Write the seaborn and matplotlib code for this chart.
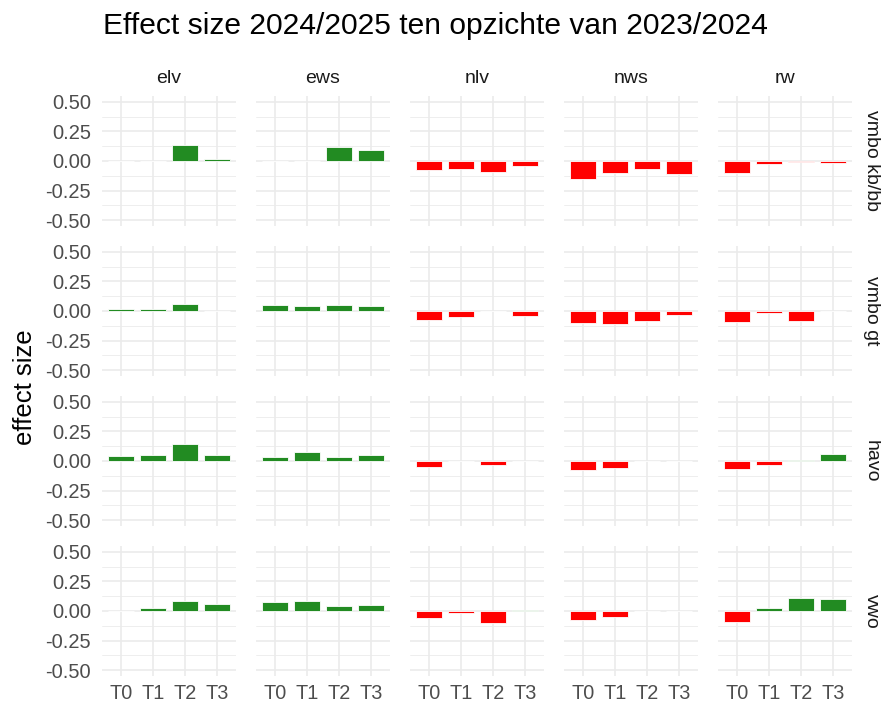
import matplotlib
matplotlib.use("Agg")
import matplotlib.pyplot as plt
import seaborn as sns
import pandas as pd
import numpy as np

sns.set_theme(style="white")
plt.rcParams['font.family'] = ['Liberation Sans', 'DejaVu Sans']

title = "Effect size 2024/2025 ten opzichte van 2023/2024"
ylabel = "effect size"
levels = ["vmbo kb/bb", "vmbo gt", "havo", "vwo"]
subjects = ["elv", "ews", "nlv", "nws", "rw"]
times = ["T0", "T1", "T2", "T3"]
yticks = [-0.50, -0.25, 0.00, 0.25, 0.50]
yticklabels = ["-0.50", "-0.25", "0.00", "0.25", "0.50"]

# values per subject (elv, ews, nlv, nws, rw), each T0..T3
vmbo_kbbb = [[0.0, 0.0, 0.136, 0.02],
             [0.0, 0.0, 0.117, 0.094],
             [-0.074, -0.068, -0.094, -0.04],
             [-0.15, -0.10, -0.068, -0.108],
             [-0.10, -0.023, -0.01, -0.02]]
vmbo_gt = [[0.015, 0.02, 0.063, 0.0],
           [0.05, 0.04, 0.048, 0.043],
           [-0.08, -0.048, 0.0, -0.04],
           [-0.105, -0.114, -0.082, -0.034],
           [-0.09, -0.02, -0.082, 0.0]]
havo = [[0.045, 0.05, 0.145, 0.054],
        [0.037, 0.077, 0.034, 0.05],
        [-0.054, 0.0, -0.034, 0.0],
        [-0.074, -0.06, 0.0, 0.0],
        [-0.065, -0.03, 0.01, 0.063]]
vwo = [[0.0, 0.026, 0.085, 0.06],
       [0.077, 0.085, 0.045, 0.05],
       [-0.06, -0.02, -0.10, 0.01],
       [-0.077, -0.05, 0.0, 0.0],
       [-0.097, 0.025, 0.114, 0.10]]

level_values = {"vmbo kb/bb": vmbo_kbbb, "vmbo gt": vmbo_gt, "havo": havo, "vwo": vwo}

records = []
for lev in levels:
    for si, sub in enumerate(subjects):
        for ti, t in enumerate(times):
            v = level_values[lev][si][ti]
            records.append({"level": lev, "subject": sub, "time": t, "es": v,
                            "sign": "pos" if v >= 0 else "neg"})
df = pd.DataFrame(records)

W, H = 881, 708
fig = plt.figure(figsize=(W / 100, H / 100), dpi=100)
palette = {"pos": "#228B22", "neg": "#FF0000"}

pan_left = [102, 256, 410, 564, 718]
pan_w = 134
pan_top = [96, 246, 396, 546]
pan_h = 130
grid_c = "#EBEBEB"
tick_c = "#4D4D4D"
strip_c = "#1A1A1A"

for r, lev in enumerate(levels):
    for c, sub in enumerate(subjects):
        ax = fig.add_axes([pan_left[c] / W, 1 - (pan_top[r] + pan_h) / H, pan_w / W, pan_h / H])
        sub_df = df[(df.level == lev) & (df.subject == sub)]
        ax.set_axisbelow(True)
        for yv in [-0.375, -0.125, 0.125, 0.375]:
            ax.axhline(yv, color=grid_c, lw=0.6, zorder=0)
        for yv in yticks:
            ax.axhline(yv, color=grid_c, lw=1.2, zorder=0)
        for xv in range(len(times)):
            ax.axvline(xv, color=grid_c, lw=1.2, zorder=0)
        sns.barplot(data=sub_df, x="time", y="es", hue="sign", palette=palette,
                    order=times, hue_order=["pos", "neg"], dodge=False, width=0.8,
                    saturation=1, legend=False, edgecolor="white", linewidth=0.6,
                    ax=ax, zorder=2)
        ax.set_xlim(-0.6, 3.6)
        ax.set_ylim(-0.55, 0.55)
        ax.set_xlabel("")
        ax.set_ylabel("")
        for s in ax.spines.values():
            s.set_visible(False)
        ax.set_yticks(yticks)
        ax.set_xticks(range(len(times)))
        ax.tick_params(axis="y", length=0, pad=8)
        ax.tick_params(axis="x", length=0, pad=6)
        if c == 0:
            ax.set_yticklabels(yticklabels, fontsize=14.5, color=tick_c)
        else:
            ax.set_yticklabels([])
        if r == len(levels) - 1:
            ax.set_xticklabels(times, fontsize=14.3, color=tick_c)
        else:
            ax.set_xticklabels([])
        if r == 0:
            ax.text(0.5, 1 + 13 / pan_h, sub, transform=ax.transAxes, ha="center",
                    va="baseline", fontsize=14, color=strip_c)
        if c == len(subjects) - 1:
            ax.text(1 + 19 / pan_w, 0.5, lev, transform=ax.transAxes, ha="center",
                    va="center", rotation=-90, fontsize=14, color=strip_c)

fig.text(103 / W, 1 - 34 / H, title, ha="left", va="baseline", fontsize=21.6, color="black")
fig.text(25 / W, 1 - 387 / H, ylabel, ha="center", va="center", rotation=90,
         fontsize=18.5, color="black")

fig.savefig("out.png", dpi=100, facecolor="white")
